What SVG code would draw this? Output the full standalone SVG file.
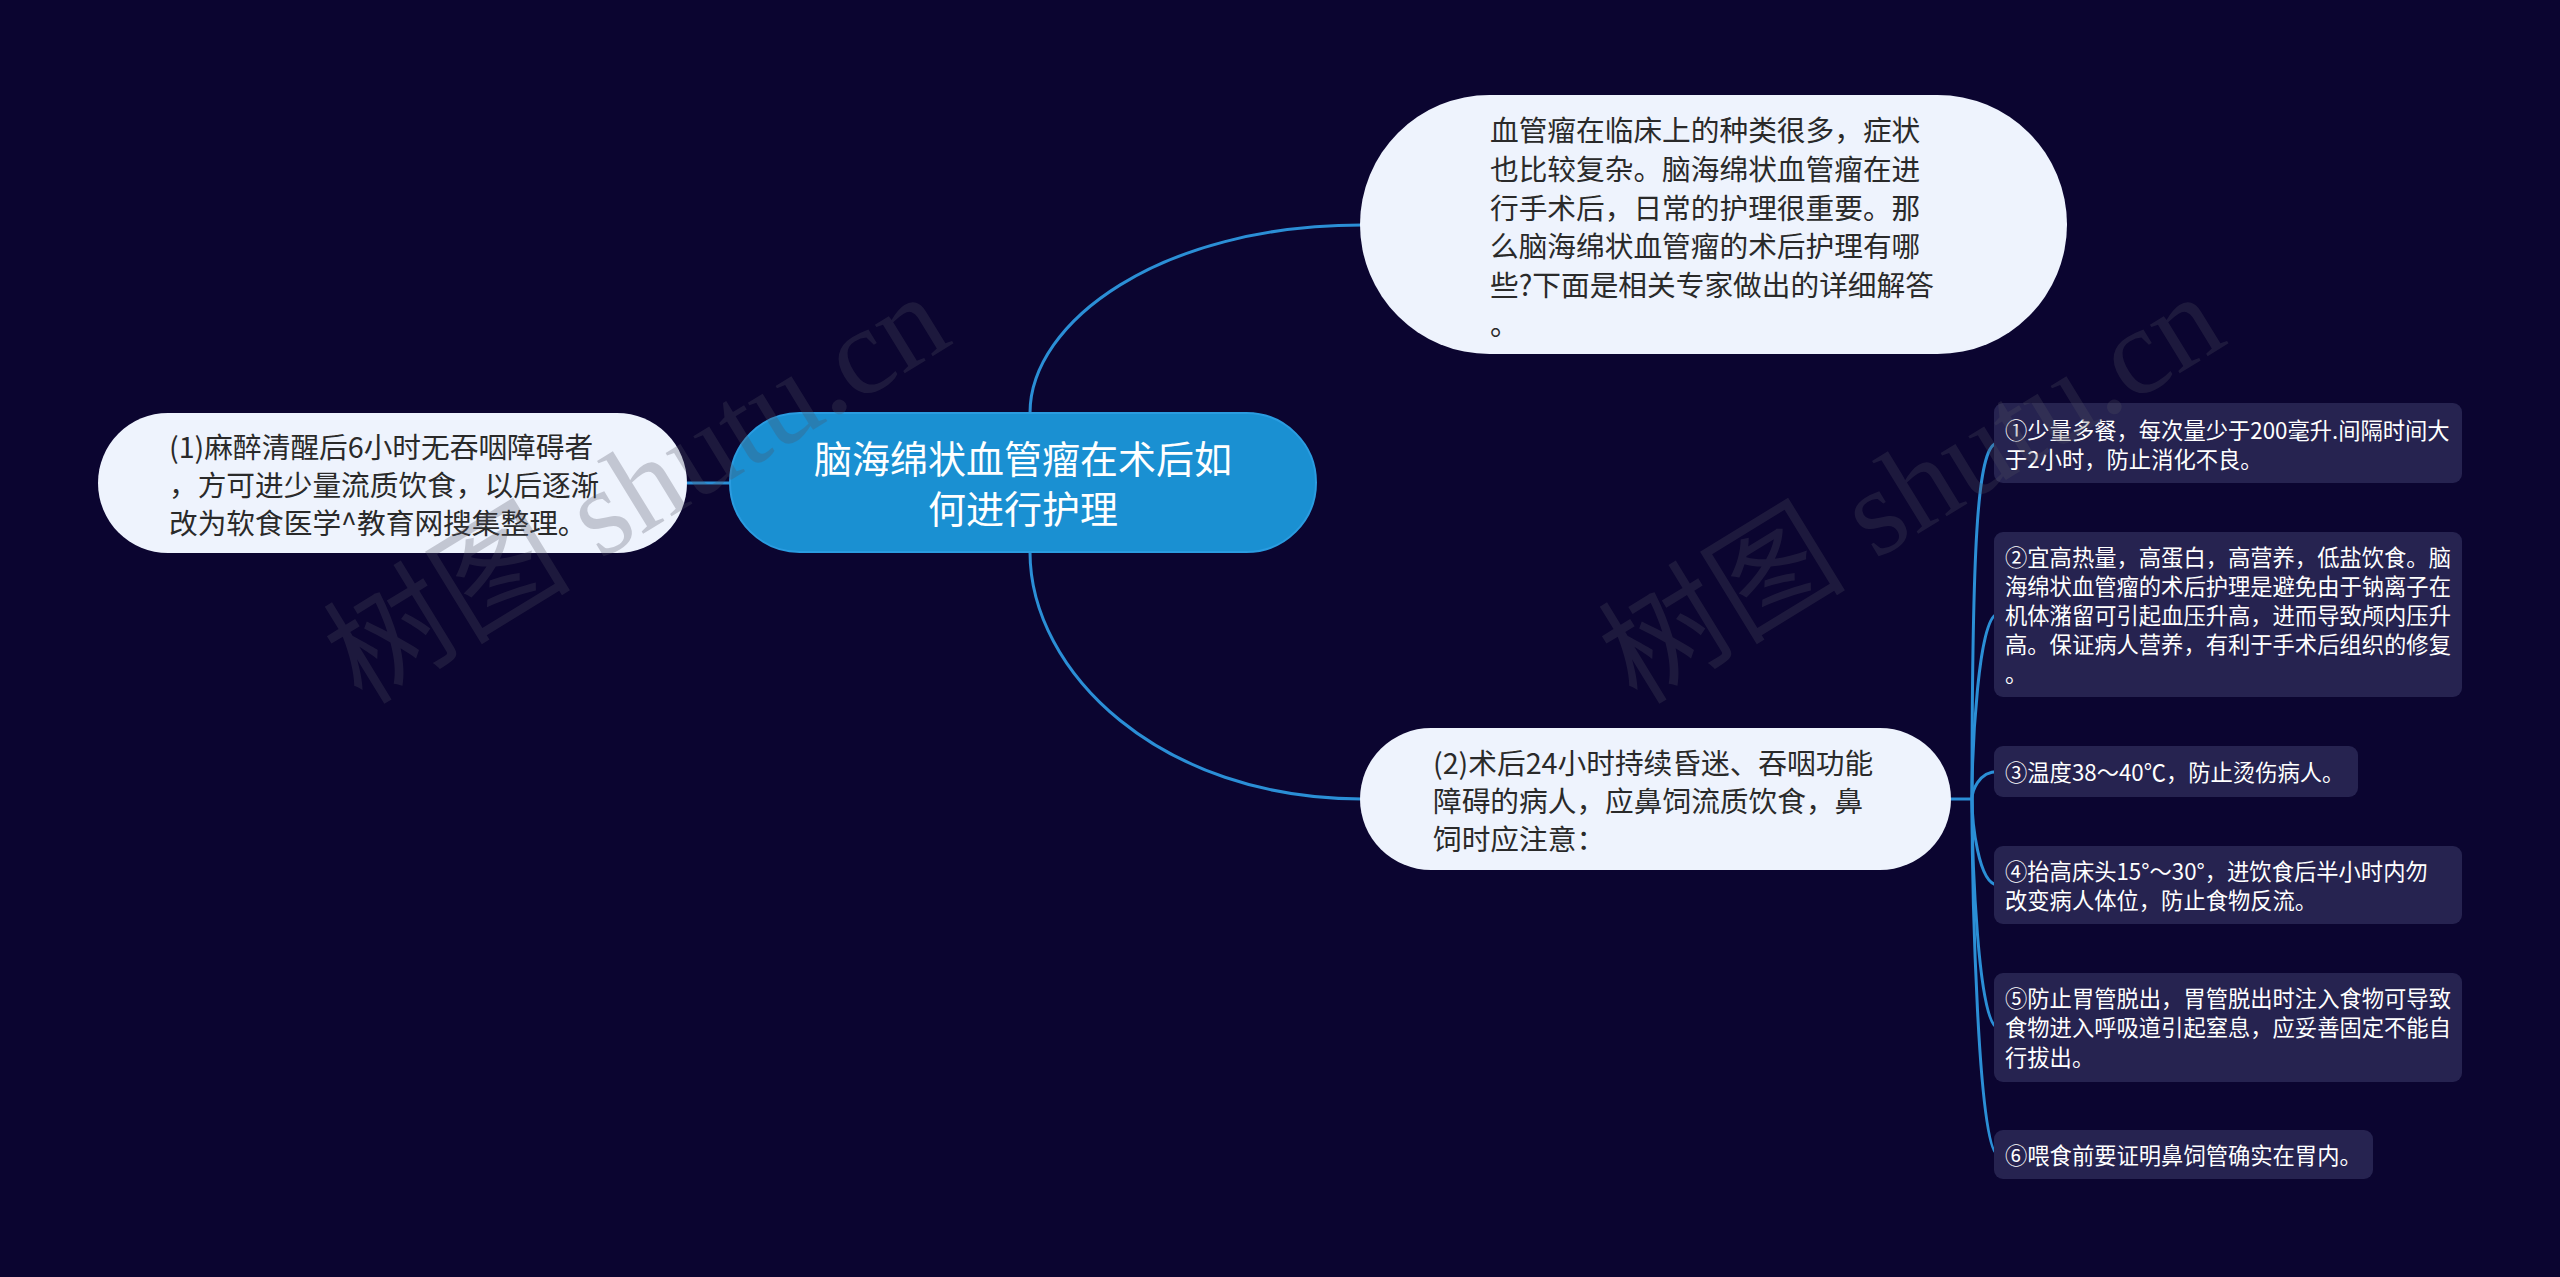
<svg xmlns="http://www.w3.org/2000/svg" width="2560" height="1277" viewBox="0 0 2560 1277">
<style>
.bg{fill:#0b0530}
.conn{fill:none;stroke:#2b8fd6;stroke-width:3}
.light{fill:#eef3fd}
.root{fill:#1a90d2;stroke:#2a9ce0;stroke-width:2}
.sub{fill:#262350}
.t{font-family:"Noto Sans CJK SC","Noto Sans",sans-serif}
.dark{fill:#2a2a2a;font-size:28.7px}
.rt{fill:#ffffff;font-size:38px}
.st{fill:#ffffff;font-size:22.3px}
.wm{font-family:"Liberation Serif","Noto Sans CJK SC",serif;font-size:124px;fill:#505060;opacity:0.27}
</style>
<rect class="bg" x="0" y="0" width="2560" height="1277"/>
<g id="connectors">
<path class="conn" d="M1030,413 C1030,322 1160,225 1362,225"/>
<path class="conn" d="M1030,552 C1030,672 1160,799 1362,799"/>
<path class="conn" d="M687,483 L730,483"/>
<path class="conn" d="M1951,799 H1972"/>
<path class="conn" d="M1972,799 C1972,532 1978,443 1998,443"/>
<path class="conn" d="M1972,799 C1972,753 1978,614 1998,614"/>
<path class="conn" d="M1972,799 C1972,792 1978,771.5 1998,771.5"/>
<path class="conn" d="M1972,799 C1972,820 1978,885 1998,885"/>
<path class="conn" d="M1972,799 C1972,856 1978,1027.5 1998,1027.5"/>
<path class="conn" d="M1972,799 C1972,888 1978,1154.5 1998,1154.5"/>
</g>
<g id="root">
<rect class="root" x="730" y="413" width="586" height="139" rx="69.5"/>
<text class="t rt" text-anchor="middle" x="1023" y="473">脑海绵状血管瘤在术后如</text>
<text class="t rt" text-anchor="middle" x="1023" y="523">何进行护理</text>
</g>
<g id="intro">
<rect class="light" x="1360" y="95" width="707" height="259" rx="129.5"/>
<text class="t dark" x="1490" y="141">血管瘤在临床上的种类很多，症状</text>
<text class="t dark" x="1490" y="180">也比较复杂。脑海绵状血管瘤在进</text>
<text class="t dark" x="1490" y="218.5">行手术后，日常的护理很重要。那</text>
<text class="t dark" x="1490" y="257">么脑海绵状血管瘤的术后护理有哪</text>
<text class="t dark" x="1490" y="296">些?下面是相关专家做出的详细解答</text>
<text class="t dark" x="1490" y="335">。</text>
</g>
<g id="left">
<rect class="light" x="98" y="413" width="589" height="140" rx="70"/>
<text class="t dark" x="169" y="458">(1)麻醉清醒后6小时无吞咽障碍者</text>
<text class="t dark" x="169" y="496">，方可进少量流质饮食，以后逐渐</text>
<text class="t dark" x="169" y="534">改为软食医学^教育网搜集整理。</text>
</g>
<g id="branch2">
<rect class="light" x="1360" y="728" width="591" height="142" rx="71"/>
<text class="t dark" x="1433" y="774">(2)术后24小时持续昏迷、吞咽功能</text>
<text class="t dark" x="1433" y="812">障碍的病人，应鼻饲流质饮食，鼻</text>
<text class="t dark" x="1433" y="850">饲时应注意：</text>
</g>
<g id="s1">
<rect class="sub" x="1994" y="403" width="468" height="80" rx="9"/>
<text class="t st" x="2005" y="438.5">①少量多餐，每次量少于200毫升.间隔时间大</text>
<text class="t st" x="2005" y="467.5">于2小时，防止消化不良。</text>
</g>
<g id="s2">
<rect class="sub" x="1994" y="532" width="468" height="165" rx="9"/>
<text class="t st" x="2005" y="565.5">②宜高热量，高蛋白，高营养，低盐饮食。脑</text>
<text class="t st" x="2005" y="594.5">海绵状血管瘤的术后护理是避免由于钠离子在</text>
<text class="t st" x="2005" y="623.5">机体潴留可引起血压升高，进而导致颅内压升</text>
<text class="t st" x="2005" y="652.5">高。保证病人营养，有利于手术后组织的修复</text>
<text class="t st" x="2005" y="681.5">。</text>
</g>
<g id="s3">
<rect class="sub" x="1994" y="746" width="364" height="51" rx="9"/>
<text class="t st" x="2005" y="780.5">③温度38～40℃，防止烫伤病人。</text>
</g>
<g id="s4">
<rect class="sub" x="1994" y="846" width="468" height="78" rx="9"/>
<text class="t st" x="2005" y="879.5">④抬高床头15°～30°，进饮食后半小时内勿</text>
<text class="t st" x="2005" y="908.5">改变病人体位，防止食物反流。</text>
</g>
<g id="s5">
<rect class="sub" x="1994" y="973" width="468" height="109" rx="9"/>
<text class="t st" x="2005" y="1006.5">⑤防止胃管脱出，胃管脱出时注入食物可导致</text>
<text class="t st" x="2005" y="1036">食物进入呼吸道引起窒息，应妥善固定不能自</text>
<text class="t st" x="2005" y="1065.5">行拔出。</text>
</g>
<g id="s6">
<rect class="sub" x="1994" y="1130" width="379" height="49" rx="9"/>
<text class="t st" x="2005" y="1163.5">⑥喂食前要证明鼻饲管确实在胃内。</text>
</g>
<g id="watermarks">
<text class="wm" transform="translate(362,706) rotate(-31.5)">树图 shutu.cn</text>
<text class="wm" transform="translate(1637,706) rotate(-31.5)">树图 shutu.cn</text>
</g>
</svg>
